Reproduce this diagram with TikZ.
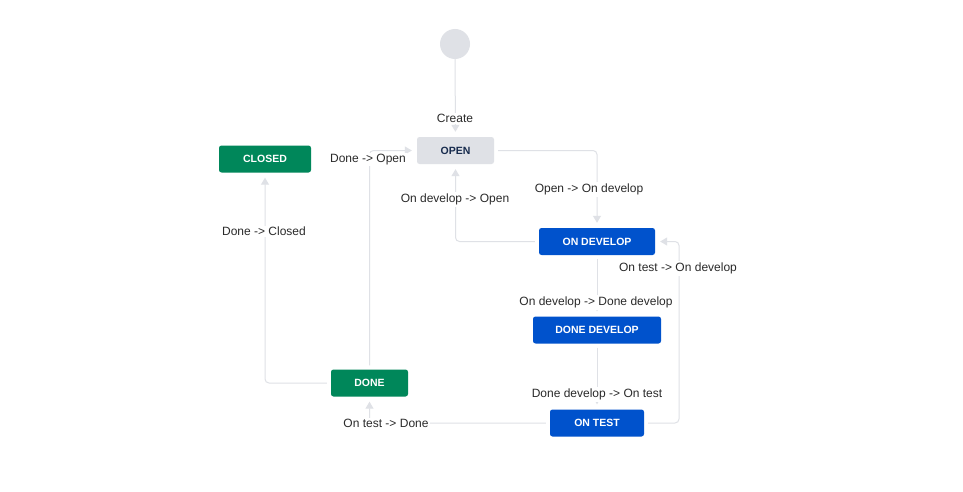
\documentclass[tikz,border=0pt]{standalone}
\usepackage{fontspec}
\setmainfont{Liberation Sans}
\usetikzlibrary{arrows.meta}
\definecolor{edgegray}{HTML}{DFE1E6}
\definecolor{jgreen}{HTML}{00875A}
\definecolor{jblue}{HTML}{0052CC}
\definecolor{jnavy}{HTML}{172B4D}
\definecolor{labtxt}{HTML}{2A2A2A}
\begin{document}
\begin{tikzpicture}[x=1pt,y=-1pt,
  state/.style={rectangle,rounded corners=2.5pt,inner sep=0pt,minimum height=27pt,
    font=\fontsize{10.5}{12}\selectfont\bfseries,text=white},
  greenst/.style={state,fill=jgreen},
  bluest/.style={state,fill=jblue},
  grayst/.style={state,fill=edgegray,text=jnavy},
  startst/.style={circle,fill=edgegray,minimum size=30pt,inner sep=0pt},
  edge/.style={draw=edgegray,line width=1pt,rounded corners=4pt,
    -{Triangle[length=7pt,width=8pt,fill=edgegray]},shorten >=5pt,shorten <=4pt},
  lab/.style={fill=white,inner sep=1.5pt,text=labtxt,font=\fontsize{12}{14}\selectfont}
]
\useasboundingbox[fill=white] (0,0) rectangle (963,492);

\node[startst] (start) at (455,44) {};
\node[grayst,minimum width=77pt] (open) at (455.5,150.5) {OPEN};
\node[greenst,minimum width=92pt] (closed) at (265,159) {CLOSED};
\node[bluest,minimum width=116pt] (ondev) at (597,241.5) {ON DEVELOP};
\node[bluest,minimum width=128pt] (donedev) at (597,330) {DONE DEVELOP};
\node[bluest,minimum width=94pt] (ontest) at (597,423) {ON TEST};
\node[greenst,minimum width=77pt] (done) at (369.5,383) {DONE};
\coordinate (rt) at (679,330);

\draw[edge,shorten <=0pt] (start) -- (open);
\draw[edge] (open.east) -| (ondev.north);
\draw[edge] (ondev.west) -| (open.south);
\draw[edge] (ondev) -- (donedev);
\draw[edge] (donedev) -- (ontest);
\draw[edge] (ontest.east) -| (rt) |- (ondev.east);
\draw[edge] (ontest.west) -| (done.south);
\draw[edge] (done.north) |- (open.west);
\draw[edge] (done.west) -| (closed.south);

\node[lab] (l1) at (455,118.5) {Create};
\node[lab] (l2) at (589,189.5) {Open -> On develop};
\node[lab] (l3) at (455,199.5) {On develop -> Open};
\node[lab] (l4) at (596,302.5) {On develop -> Done develop};
\node[lab] (l5) at (597,394.5) {Done develop -> On test};
\node[lab] (l6) at (678,268.5) {On test -> On develop};
\node[lab] (l7) at (386,423.5) {On test -> Done};
\node[lab] (l8) at (368,159.5) {Done -> Open};
\node[lab] (l9) at (264,231.5) {Done -> Closed};
\end{tikzpicture}
\end{document}
